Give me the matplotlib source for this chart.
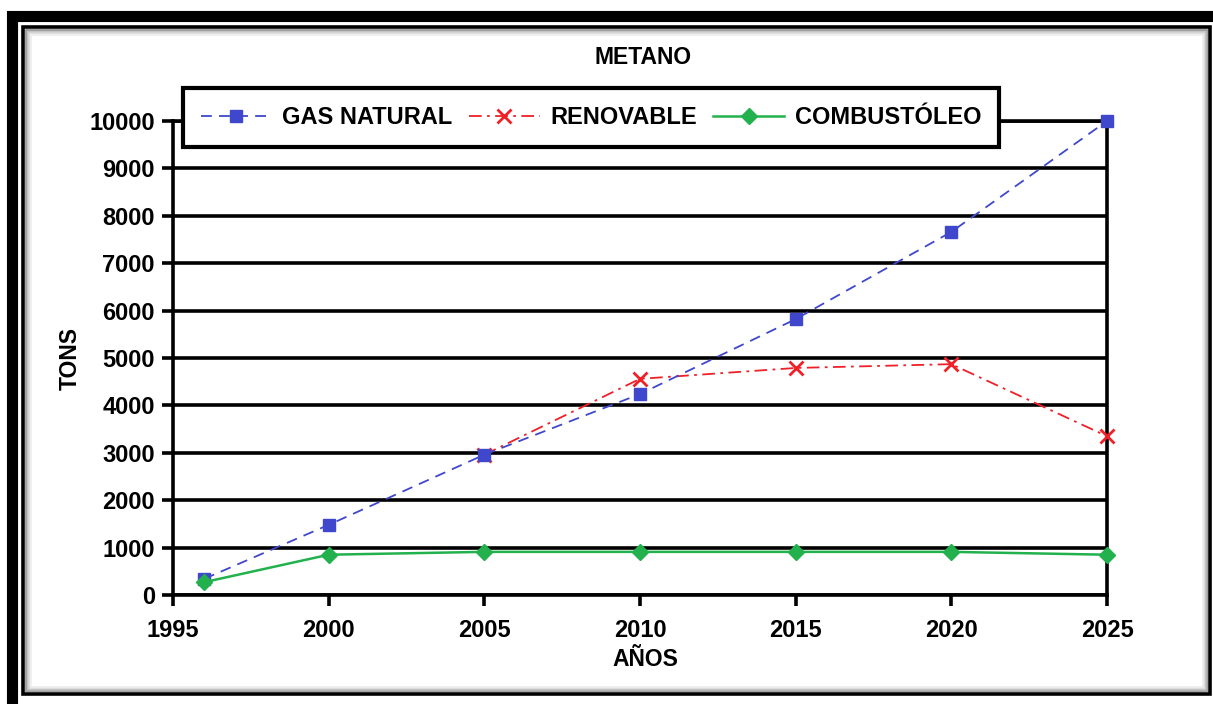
import matplotlib
matplotlib.use("Agg")
import matplotlib.pyplot as plt
from matplotlib.patches import Rectangle

# values
years = [1996, 2000, 2005, 2010, 2015, 2020, 2025]
gas_natural = [340, 1480, 2960, 4240, 5820, 7660, 10000]
combustoleo = [270, 850, 910, 910, 910, 910, 850]
years_renov = [2005, 2010, 2015, 2020, 2025]
renovable = [2960, 4560, 4790, 4870, 3350]

x_ticks = [1995, 2000, 2005, 2010, 2015, 2020, 2025]
y_ticks = list(range(0, 10001, 1000))

W, H = 1213, 704
plt.rcParams['font.family'] = ['Liberation Sans', 'DejaVu Sans']
plt.rcParams['font.weight'] = 'bold'

fig = plt.figure(figsize=(W / 100, H / 100), dpi=100)


def fx(px):
    return px / W


def fy(py):
    return 1 - py / H


# outer frame: thick black bar, thin inner line, soft grey shadow
fig.patches.append(Rectangle((fx(12), fy(712)), fx(1230) - fx(12), fy(15.5) - fy(712),
                             transform=fig.transFigure, fill=False, ec='black', lw=8))
for i, c in enumerate(['#909090', '#b8b8b8', '#d8d8d8', '#ececec']):
    d = 3 + i * 1.5
    fig.patches.append(Rectangle((fx(23 + d), fy(694 - d)), fx(1210 - d) - fx(23 + d),
                                 fy(27 + d) - fy(694 - d), transform=fig.transFigure,
                                 fill=False, ec=c, lw=1.2))
fig.patches.append(Rectangle((fx(23), fy(694)), fx(1210) - fx(23), fy(27) - fy(694),
                             transform=fig.transFigure, fill=False, ec='black', lw=2.6))

ax = fig.add_axes([fx(173), fy(595), fx(1107) - fx(173), fy(121) - fy(595)])

ax.plot(years_renov, renovable, color='#ee2028', lw=1.3, ls=(0, (7, 3, 1.5, 3)),
        marker='x', ms=10, mew=2, label='RENOVABLE', zorder=3, clip_on=False)
ax.plot(years, gas_natural, color='#3f48cc', lw=1.3, ls=(0, (6, 4)),
        marker='s', ms=8.5, label='GAS NATURAL', zorder=4, clip_on=False)
ax.plot(years, combustoleo, color='#22b14c', lw=1.8, ls='-',
        marker='D', ms=8.5, label='COMBUSTÓLEO', zorder=4, clip_on=False)

ax.set_xlim(1995, 2025)
ax.set_ylim(0, 10000)
ax.set_xticks(x_ticks)
ax.set_yticks(y_ticks)
ax.tick_params(axis='both', direction='out', length=8, width=2.6, labelsize=17,
               color='black')
ax.tick_params(axis='y', pad=5)
ax.tick_params(axis='x', pad=9)
for lab in ax.get_xticklabels() + ax.get_yticklabels():
    lab.set_fontweight('bold')

ax.grid(axis='y', color='black', lw=2.6, zorder=1)
ax.set_axisbelow(True)
for side in ['left', 'bottom', 'right', 'top']:
    ax.spines[side].set_linewidth(2.6)

fig.text(fx(643), fy(58), 'METANO', ha='center', va='center', fontsize=16.5,
         fontweight='bold')
fig.text(fx(70), fy(358), 'TONS', ha='center', va='center', rotation=90,
         fontsize=16.5, fontweight='bold')
fig.text(fx(645), fy(660), 'AÑOS', ha='center', va='center', fontsize=16.5,
         fontweight='bold')

handles, labels = ax.get_legend_handles_labels()
order = [1, 0, 2]
leg = ax.legend([handles[i] for i in order], [labels[i] for i in order],
                loc='center', bbox_to_anchor=((591 - 173) / 934, (595 - 117.5) / 474),
                ncol=3, frameon=True, fancybox=False, edgecolor='black',
                prop={'size': 17, 'weight': 'bold'}, handlelength=3.0,
                handletextpad=0.45, columnspacing=0.7, borderpad=0.75,
                borderaxespad=0)
leg.get_frame().set_linewidth(3)
leg.get_frame().set_alpha(1)
leg.set_zorder(10)

fig.savefig('out.png', dpi=100)
